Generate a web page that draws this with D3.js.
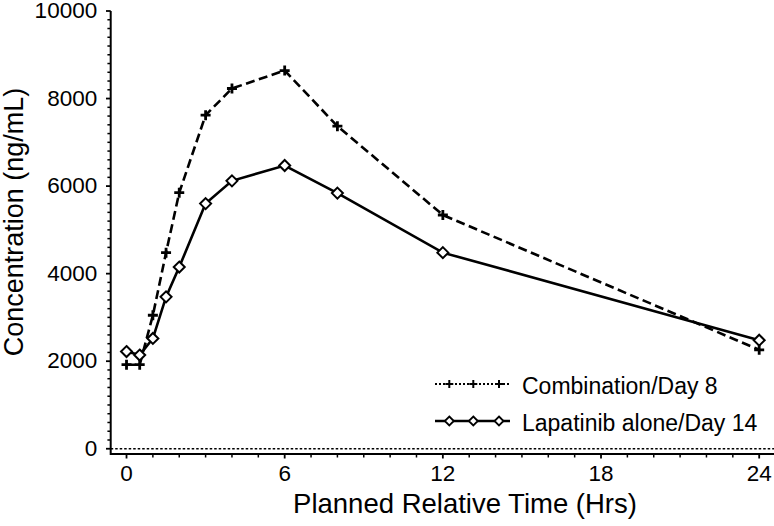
<!DOCTYPE html>
<html>
<head>
<meta charset="utf-8">
<script src="https://cdn.jsdelivr.net/npm/d3@7"></script>
<style>
  html, body { margin: 0; padding: 0; background: #fff; }
  svg { display: block; }
  text { font-family: "Liberation Sans", Arial, sans-serif; fill: #000; }
</style>
</head>
<body>
<svg id="chart" width="774" height="526"></svg>
<script>
const times = [0, 0.5, 1, 1.5, 2, 3, 4, 6, 8, 12, 24];
const combination = [1920, 1920, 3050, 4480, 5850, 7620, 8230, 8640, 7370, 5340, 2260];
const lapatinib = [2220, 2140, 2520, 3470, 4150, 5600, 6120, 6470, 5840, 4480, 2480];
const seriesNames = ["Combination/Day 8", "Lapatinib alone/Day 14"];
const xTicks = [0, 6, 12, 18, 24];
const yTicks = [0, 2000, 4000, 6000, 8000, 10000];
const xTitle = "Planned Relative Time (Hrs)";
const yTitle = "Concentration (ng/mL)";

const svg = d3.select("#chart");
const x = d3.scaleLinear().domain([-0.6, 24.6]).range([110.7, 775]);
const y = d3.scaleLinear().domain([-120, 10000]).range([454, 11]);

// minor ticks
const xMinor = d3.range(0, 25, 1).filter(v => v % 6 !== 0);
const yMinor = d3.range(0, 10001, 200).filter(v => v % 2000 !== 0);

const gx = svg.append("g").attr("transform", `translate(0,${y(-120)})`);
gx.append("line").attr("x1", x(-0.6)).attr("x2", 774).attr("y1", 0).attr("y2", 0)
  .attr("stroke", "#000").attr("stroke-width", 2);
gx.selectAll(".mn").data(xMinor).join("line")
  .attr("x1", d => x(d)).attr("x2", d => x(d)).attr("y1", 0).attr("y2", 3.5)
  .attr("stroke", "#000").attr("stroke-width", 1.5);
gx.selectAll(".mj").data(xTicks).join("line")
  .attr("x1", d => x(d)).attr("x2", d => x(d)).attr("y1", 0).attr("y2", 4.5)
  .attr("stroke", "#000").attr("stroke-width", 1.8);
gx.selectAll(".lb").data(xTicks).join("text")
  .attr("x", d => x(d)).attr("y", 26.5)
  .attr("text-anchor", "middle").attr("font-size", 22.5)
  .text(d => d);

const gy = svg.append("g").attr("transform", `translate(${x(-0.6)},0)`);
gy.append("line").attr("x1", 0).attr("x2", 0).attr("y1", y(10000)).attr("y2", y(-120) + 1)
  .attr("stroke", "#000").attr("stroke-width", 2);
gy.selectAll(".mn").data(yMinor).join("line")
  .attr("x1", -3.3).attr("x2", 0).attr("y1", d => y(d)).attr("y2", d => y(d))
  .attr("stroke", "#000").attr("stroke-width", 1.5);
gy.selectAll(".mj").data(yTicks).join("line")
  .attr("x1", -4.7).attr("x2", 0).attr("y1", d => y(d)).attr("y2", d => y(d))
  .attr("stroke", "#000").attr("stroke-width", 1.8);
gy.selectAll(".lb").data(yTicks).join("text")
  .attr("x", -13.5).attr("y", d => y(d) + 7)
  .attr("text-anchor", "end").attr("font-size", 22.5)
  .text(d => d);

// zero reference line
svg.append("line").attr("x1", x(-0.6)).attr("x2", 774).attr("y1", y(0)).attr("y2", y(0))
  .attr("stroke", "#000").attr("stroke-width", 1.3).attr("stroke-dasharray", "2.5,2");

// titles
svg.append("text").attr("x", 465).attr("y", 513).attr("text-anchor", "middle")
  .attr("font-size", 27.5).text(xTitle);
svg.append("text").attr("transform", "translate(22.5,222) rotate(-90)")
  .attr("text-anchor", "middle").attr("font-size", 27).text(yTitle);

const line = d3.line().x(d => x(d[0])).y(d => y(d[1]));
const combData = times.map((t, i) => [t, combination[i]]);
const lapData = times.map((t, i) => [t, lapatinib[i]]);

svg.append("path").datum(combData).attr("d", line).attr("fill", "none")
  .attr("stroke", "#000").attr("stroke-width", 2.6).attr("stroke-dasharray", "9,4.5");
svg.append("path").datum(lapData).attr("d", line).attr("fill", "none")
  .attr("stroke", "#000").attr("stroke-width", 2.6);

function plus(g, cx, cy, s, w) {
  g.append("path").attr("d", `M${cx - s},${cy}H${cx + s}M${cx},${cy - s}V${cy + s}`)
    .attr("stroke", "#000").attr("stroke-width", w).attr("fill", "none");
}
function diamond(g, cx, cy, s, w) {
  g.append("path").attr("d", `M${cx},${cy - s}L${cx + s},${cy}L${cx},${cy + s}L${cx - s},${cy}Z`)
    .attr("stroke", "#000").attr("stroke-width", w).attr("fill", "#fff");
}
const gm = svg.append("g");
lapData.forEach(d => diamond(gm, x(d[0]), y(d[1]), 5.5, 2));
combData.forEach(d => plus(gm, x(d[0]), y(d[1]), 5, 2.8));

// legend
const lg = svg.append("g");
const legX1 = 435, legX2 = 510, legMarks = [449.3, 473.3, 499];
const rows = [384, 421];
lg.append("line").attr("x1", legX1).attr("x2", legX2).attr("y1", rows[0]).attr("y2", rows[0])
  .attr("stroke", "#000").attr("stroke-width", 1.8).attr("stroke-dasharray", "2,2");
legMarks.forEach(m => plus(lg, m, rows[0], 4, 2));
lg.append("line").attr("x1", legX1).attr("x2", legX2).attr("y1", rows[1]).attr("y2", rows[1])
  .attr("stroke", "#000").attr("stroke-width", 2.4);
legMarks.forEach(m => diamond(lg, m, rows[1], 4.5, 1.8));
lg.selectAll("text").data(seriesNames).join("text")
  .attr("x", 522).attr("y", (d, i) => rows[i] + 9.5)
  .attr("font-size", 23).text(d => d);
</script>
</body>
</html>
